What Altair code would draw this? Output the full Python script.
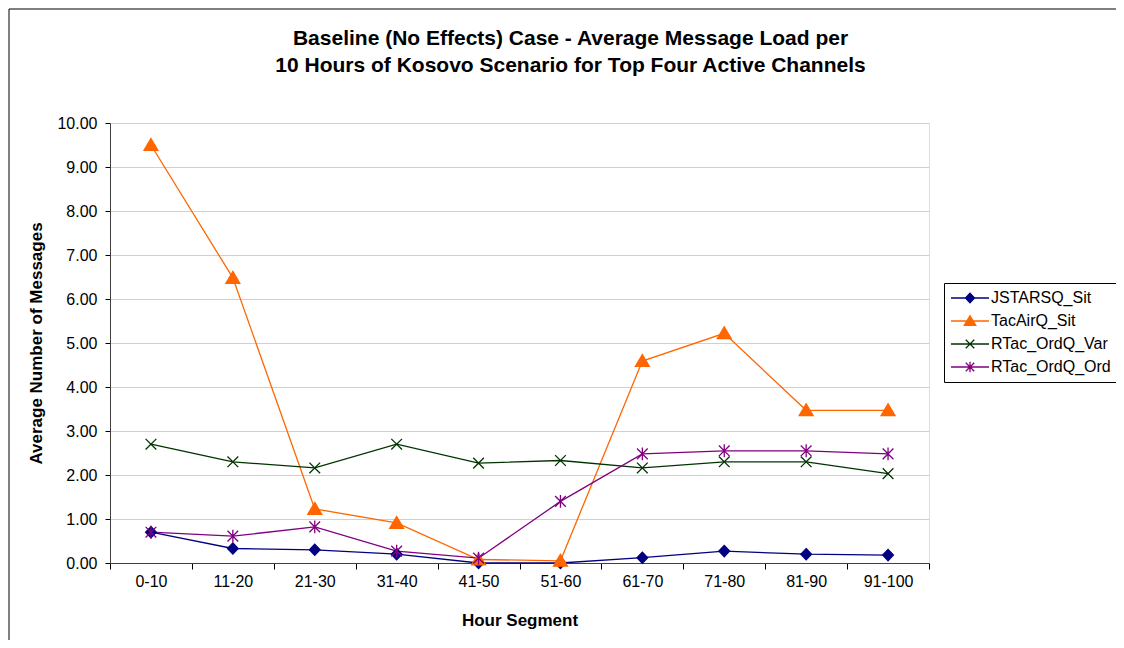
import altair as alt
import pandas as pd

segments = ["0-10", "11-20", "21-30", "31-40", "41-50", "51-60", "61-70", "71-80", "81-90", "91-100"]
series = ["JSTARSQ_Sit", "TacAirQ_Sit", "RTac_OrdQ_Var", "RTac_OrdQ_Ord"]

jstarsq_sit = [0.70, 0.33, 0.30, 0.20, 0.00, 0.00, 0.12, 0.27, 0.20, 0.18]
tacairq_sit = [9.50, 6.48, 1.23, 0.91, 0.08, 0.05, 4.59, 5.22, 3.47, 3.47]
rtac_ordq_var = [2.70, 2.30, 2.16, 2.70, 2.27, 2.33, 2.16, 2.30, 2.30, 2.03]
rtac_ordq_ord = [0.70, 0.61, 0.82, 0.27, 0.11, 1.40, 2.48, 2.55, 2.55, 2.48]

colors = ["#000080", "#FF6600", "#003300", "#800080"]

values = [jstarsq_sit, tacairq_sit, rtac_ordq_var, rtac_ordq_ord]
rows = []
for s, vals in zip(series, values):
    for i, (seg, v) in enumerate(zip(segments, vals)):
        rows.append({"segment": seg, "series": s, "value": v, "idx": i})
df = pd.DataFrame(rows)

FONT = "Liberation Sans"

marker_paths = [
    "M0,-1.05L1,0L0,1.05L-1,0Z",
    "M0,-1.2L1.3,1L-1.3,1Z",
    "M-1,-1L1,1M-1,1L1,-1",
    "M-1,-1L1,1M-1,1L1,-1M0,-1.2L0,1.2",
]
line_seg = "M-3.8,0L3.8,0"
legend_paths = [line_seg + "M0,-0.95L0.9,0L0,0.95L-0.9,0Z",
                line_seg + "M0,-1.05L1.15,0.85L-1.15,0.85Z",
                line_seg + "M-0.85,-0.85L0.85,0.85M-0.85,0.85L0.85,-0.85",
                line_seg + "M-0.85,-0.85L0.85,0.85M-0.85,0.85L0.85,-0.85M0,-1.05L0,1.05"]

x_enc = alt.X(
    "segment:N",
    sort=segments,
    scale=alt.Scale(type="band", paddingInner=0, paddingOuter=0),
    axis=alt.Axis(
        title="Hour Segment",
        labelAngle=0,
        tickBand="extent",
        tickSize=6,
        tickColor="black",
        domainColor="#404040",
        labelFont=FONT,
        labelFontSize=16,
        labelColor="black",
        labelPadding=4,
        titleFont=FONT,
        titleFontSize=17,
        titleFontWeight="bold",
        titleColor="black",
        titlePadding=23,
        grid=False,
    ),
)
y_enc = alt.Y(
    "value:Q",
    scale=alt.Scale(domain=[0, 10], nice=False, zero=True),
    axis=alt.Axis(
        title="Average Number of Messages",
        values=list(range(0, 11)),
        format=".2f",
        tickSize=5,
        tickColor="black",
        domainColor="#404040",
        labelFont=FONT,
        labelFontSize=16,
        labelColor="black",
        labelPadding=8,
        titleFont=FONT,
        titleFontSize=17,
        titleFontWeight="bold",
        titleColor="black",
        titlePadding=11,
        grid=True,
        gridColor="#d0d0d0",
        gridWidth=1,
    ),
)

lines = alt.Chart(df).mark_line(strokeWidth=1.3).encode(
    x=x_enc,
    y=y_enc,
    color=alt.Color("series:N", scale=alt.Scale(domain=series, range=colors), legend=None),
    order=alt.Order("idx:Q"),
)

points = alt.Chart(df).mark_point(opacity=1, size=115, strokeWidth=1.3).encode(
    x=x_enc,
    y=y_enc,
    shape=alt.Shape("series:N", scale=alt.Scale(domain=series, range=marker_paths), legend=None),
    stroke=alt.Stroke("series:N", scale=alt.Scale(domain=series, range=colors), legend=None),
    fill=alt.Fill("series:N", scale=alt.Scale(domain=series, range=colors), legend=None),
)

leg = alt.Legend(
    title=None,
    orient="none",
    legendX=834,
    legendY=160,
    labelFont=FONT,
    labelFontSize=16,
    labelColor="black",
    strokeColor="black",
    fillColor="white",
    padding=7,
    rowPadding=7,
    symbolSize=100,
    symbolOffset=11,
    labelOffset=13,
    symbolStrokeWidth=1.3,
    cornerRadius=0,
)

legend_layer = alt.Chart(df).transform_filter("false").mark_point(opacity=1, size=100, strokeWidth=1.3).encode(
    x=x_enc,
    y=y_enc,
    shape=alt.Shape("series:N", scale=alt.Scale(domain=series, range=legend_paths), legend=leg),
    stroke=alt.Stroke("series:N", scale=alt.Scale(domain=series, range=colors), legend=leg),
    fill=alt.Fill("series:N", scale=alt.Scale(domain=series, range=colors), legend=leg),
)

frame = alt.Chart(pd.DataFrame({"a": [0]})).mark_rect(
    fill=None, stroke="black", strokeWidth=1, clip=False
).encode(
    x=alt.value(-101), x2=alt.value(1300), y=alt.value(-114), y2=alt.value(900)
)

chart = alt.layer(frame, lines, points, legend_layer).resolve_scale(
    shape="independent", stroke="independent", fill="independent"
).properties(
    width=819,
    height=440,
    padding={"left": 102, "top": 115, "right": 187, "bottom": 77},
    autosize=alt.AutoSizeParams(type="none"),
    title=alt.TitleParams(
        text=["Baseline (No Effects) Case - Average Message Load per",
              "10 Hours of Kosovo Scenario for Top Four Active Channels"],
        font=FONT,
        fontSize=21,
        fontWeight="bold",
        color="black",
        anchor="middle",
        dx=51,
        offset=-67,
        lineHeight=27,
    ),
).configure_view(stroke="#808080", strokeWidth=1).configure(background="white")

chart.save("out.html", embed_options={"renderer": "svg", "actions": False})
